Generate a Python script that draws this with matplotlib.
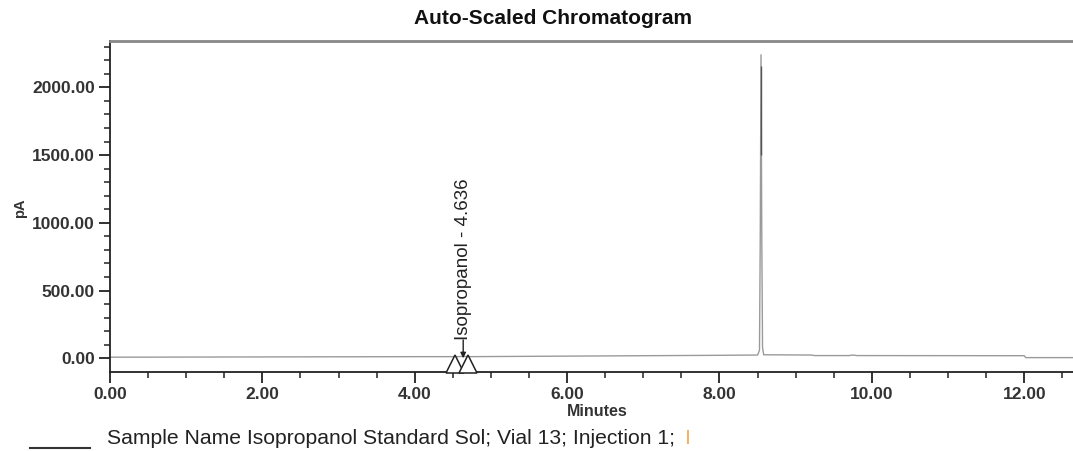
import matplotlib
matplotlib.use("Agg")
import matplotlib.pyplot as plt
from matplotlib.ticker import MultipleLocator, FormatStrFormatter

plt.rcParams['font.family'] = ['Liberation Sans', 'DejaVu Sans']

# ---- data ----
time_min = [0.00, 2.00, 4.00, 4.55, 4.636, 4.72, 6.00, 8.00, 8.50, 8.525, 8.535,
            8.545, 8.555, 8.565, 8.58, 9.20, 9.25, 9.70, 9.75, 9.80, 12.00, 12.02, 12.64]
signal_pA = [8, 10, 12, 12, 14, 12, 16, 22, 24, 60, 900,
             2240, 900, 80, 26, 24, 20, 20, 24, 20, 19, 5, 5]
peak_name = "Isopropanol"
peak_rt = 4.636
peak_start, peak_end = 4.53, 4.70
apex_dark_lo, apex_dark_hi = 1500, 2160
apex_time = 8.545

title = "Auto-Scaled Chromatogram"
xlabel = "Minutes"
ylabel = "pA"
sample_text = "Sample Name Isopropanol Standard Sol; Vial 13; Injection 1; "
sample_tail = "I"

fig = plt.figure(figsize=(10.73, 4.51), dpi=100)
ax = fig.add_axes([110/1073, 1-371.7/451, 1-110/1073, (371.7-40.7)/451])

ax.plot(time_min, signal_pA, color="#9a9a9a", lw=1.0)
ax.vlines([apex_time], apex_dark_lo, apex_dark_hi, color="#555555", lw=1.0)

ax.set_xlim(0, 12.64)
ax.set_ylim(-99, 2344)

ax.xaxis.set_major_locator(MultipleLocator(2))
ax.xaxis.set_minor_locator(MultipleLocator(0.5))
ax.yaxis.set_major_locator(MultipleLocator(500))
ax.yaxis.set_minor_locator(MultipleLocator(100))
ax.xaxis.set_major_formatter(FormatStrFormatter("%.2f"))
ax.yaxis.set_major_formatter(FormatStrFormatter("%.2f"))

ax.tick_params(axis="both", which="major", length=8, width=1.3, color="#222222",
               labelsize=12.5, labelcolor="#333333", direction="out", pad=3)
ax.tick_params(axis="both", which="minor", length=4, width=1.1, color="#222222",
               direction="out")
for lab in ax.get_xticklabels() + ax.get_yticklabels():
    lab.set_fontweight("bold")

ax.spines["right"].set_visible(False)
ax.spines["top"].set_color("#888888")
ax.spines["top"].set_linewidth(2)
ax.spines["left"].set_color("#222222")
ax.spines["left"].set_linewidth(1.3)
ax.spines["bottom"].set_color("#222222")
ax.spines["bottom"].set_linewidth(1.3)

# integration markers
ax.plot([peak_start, peak_end], [-45, -45], linestyle="none", marker="^",
        markersize=13, markerfacecolor="white", markeredgecolor="#222222", mew=1.1,
        clip_on=False, zorder=5)
ax.annotate("", xy=(peak_rt, 0), xytext=(peak_rt, 135),
            arrowprops=dict(arrowstyle="-|>", color="#222222", lw=1.0,
                            mutation_scale=8, shrinkA=0, shrinkB=0), zorder=6)
ax.text(peak_rt, 135, f"{peak_name} - {peak_rt:.3f}", rotation=90, ha="center",
        va="bottom", fontsize=13.5, color="#222222")

fig.text(553/1073, 1-19/451, title, ha="center", va="center", fontsize=15,
         fontweight="bold", color="#111111")
fig.text(597/1073, 1-411/451, xlabel, ha="center", va="center", fontsize=11.5,
         fontweight="bold", color="#333333")
fig.text(20/1073, 1-208/451, ylabel, ha="center", va="center", fontsize=10.5,
         fontweight="bold", rotation=90, color="#333333")
fig.text(107/1073, 1-438/451, sample_text, ha="left", va="center", fontsize=15.2,
         color="#222222")
fig.text(685/1073, 1-438/451, sample_tail, ha="left", va="center", fontsize=15.2,
         color="#f5b060")
fig.add_artist(plt.Line2D([30/1073, 90/1073], [1-448/451, 1-448/451],
                          color="#333333", lw=1.5))

fig.savefig("out.png", dpi=100)
